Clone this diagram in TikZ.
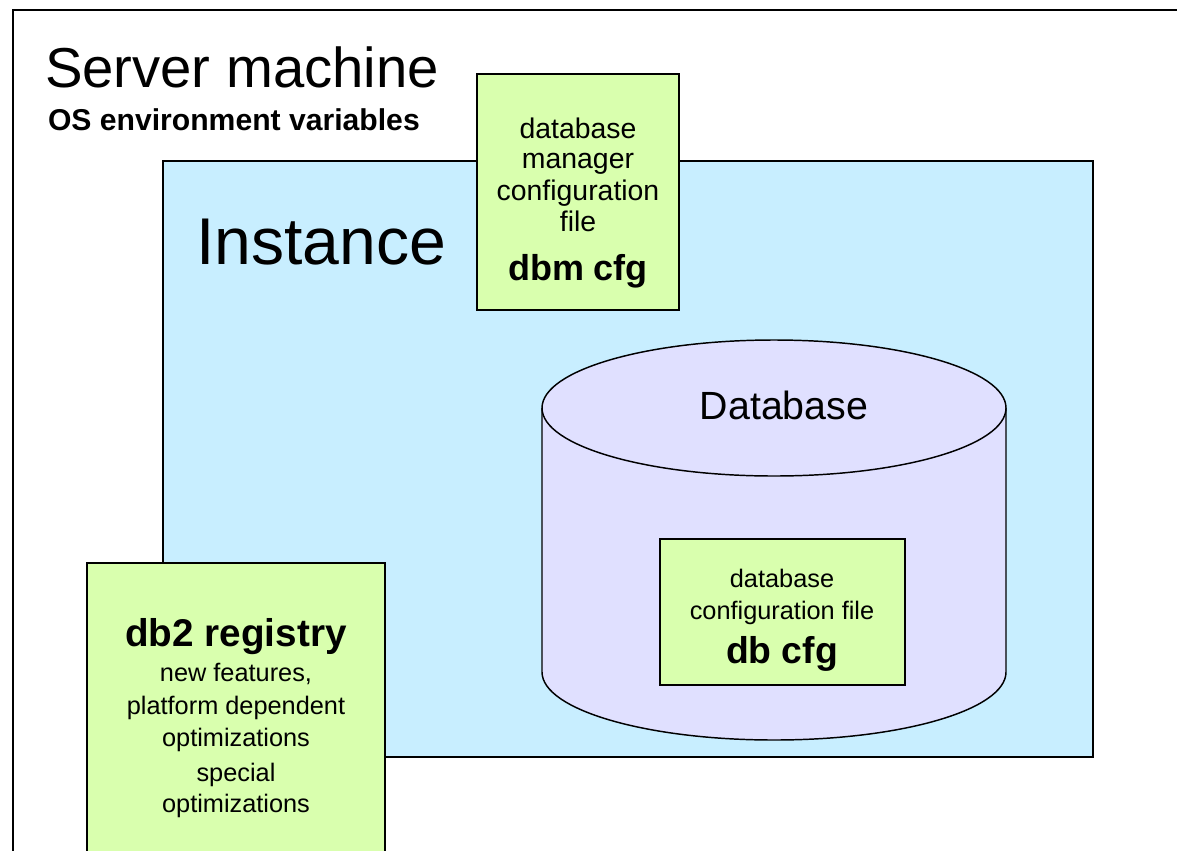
\documentclass[tikz,border=0pt]{standalone}
\usepackage{fontspec}
\setmainfont{Liberation Sans}
\definecolor{instfill}{HTML}{C8EEFF}
\definecolor{cfgfill}{HTML}{D9FFAE}
\definecolor{dbfill}{HTML}{E0E0FF}
\tikzset{
  pxbox/.style={draw=black, line width=1.5pt, anchor=north west, inner sep=0pt, outer sep=0pt},
  cfgbox/.style={pxbox, fill=cfgfill},
  txt/.style={anchor=base, inner sep=0pt, outer sep=0pt, text=black},
  fs/.style={font=\fontsize{#1}{#1}\selectfont}
}
\begin{document}
\begin{tikzpicture}[x=0.75pt, y=-0.75pt]
\useasboundingbox (0,0) rectangle (1177,850);
\clip (0,0) rectangle (1177,850);
% outer frame (server machine)
\draw[line width=1.5pt] (13,10) rectangle (1250,950);
\node[txt, anchor=base west, fs=42.2] (server) at (45,87) {Server machine};
\node[txt, anchor=base west, fs=22.6] (osenv) at (48,130) {\bfseries OS environment variables};
% instance
\node[pxbox, fill=instfill, minimum width=697.5pt, minimum height=447pt] (inst) at (163,161) {};
\node[txt, anchor=base west, fs=49.6] (insttxt) at (196,264) {Instance};
% dbm cfg box
\node[cfgbox, minimum width=151.5pt, minimum height=177pt] (dbm) at (477,74) {};
\node[txt, fs=21.3] (dbm1) at (578,138) {database};
\node[txt, fs=21.3] (dbm2) at (578,168) {manager};
\node[txt, fs=21.3] (dbm3) at (578,200) {configuration};
\node[txt, fs=21.3] (dbm4) at (578,231) {file};
\node[txt, fs=27] (dbm5) at (578,280) {\bfseries dbm cfg};
% database cylinder
\path[fill=dbfill, draw=black, line width=1.1pt, line join=round]
  (542,408) -- (542,672)
  .. controls (542,709.6) and (645.9,740) .. (774,740)
  .. controls (902.1,740) and (1006,709.6) .. (1006,672)
  -- (1006,408);
\path[fill=dbfill, draw=black, line width=1.1pt]
  (542,408) .. controls (542,370.4) and (645.9,340) .. (774,340)
  .. controls (902.1,340) and (1006,370.4) .. (1006,408)
  .. controls (1006,445.6) and (902.1,476) .. (774,476)
  .. controls (645.9,476) and (542,445.6) .. (542,408) -- cycle;
\node[txt, fs=29.5] (dbtxt) at (784,419) {Database};
% db cfg box
\node[cfgbox, minimum width=183.75pt, minimum height=109.5pt] (db) at (660,539) {};
\node[txt, fs=19] (db1) at (782,587) {database};
\node[txt, fs=19] (db2) at (782,619) {configuration file};
\node[txt, fs=28] (db3) at (782,663) {\bfseries db cfg};
% db2 registry box
\node[cfgbox, minimum width=223.5pt, minimum height=255pt] (reg) at (87,563) {};
\node[txt, fs=29] (reg1) at (236,646) {\bfseries db2 registry};
\node[txt, fs=19] (reg2) at (236,681) {new features,};
\node[txt, fs=19] (reg3) at (236,714) {platform dependent};
\node[txt, fs=19] (reg4) at (236,746) {optimizations};
\node[txt, fs=19] (reg5) at (236,781) {special};
\node[txt, fs=19] (reg6) at (236,812) {optimizations};
\end{tikzpicture}
\end{document}
